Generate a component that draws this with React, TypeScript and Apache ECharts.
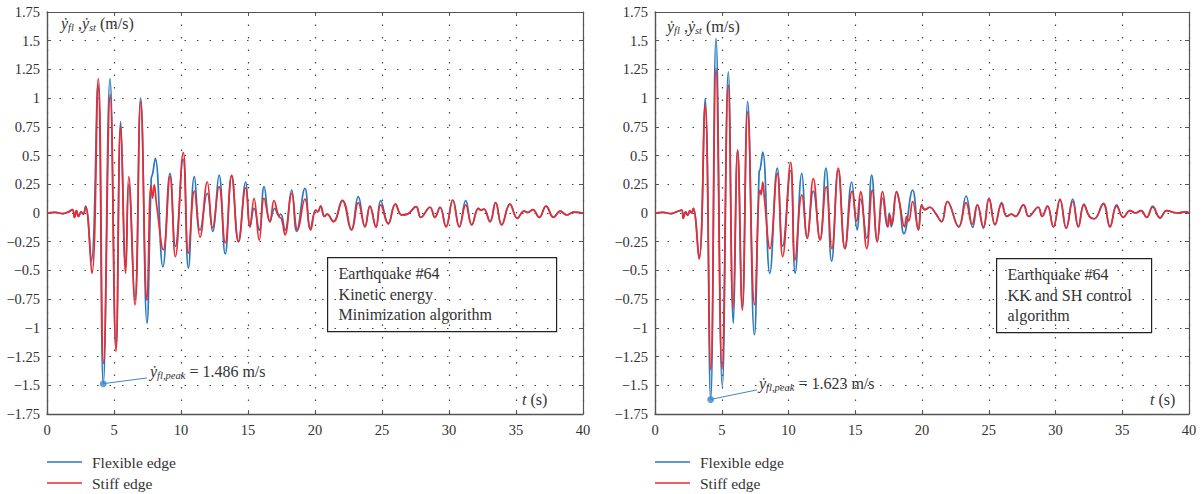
import React, { useEffect, useRef } from "react";
import * as echarts from "echarts";

// ---- data (t in s, velocity in m/s) ----
const leftFlexible: [number, number][] = [
  [0, 0], [0.6, 0.005], [1.2, -0.005], [1.6, 0.01], [1.9, 0.03], [2.05, -0.035], [2.2, 0.02], [2.35, -0.03], [2.55, 0.01], [2.7, -0.01], [2.88, 0.06],
  [3.3, -0.42], [3.8, 1.12], [4.2, -1.486], [4.7, 1.17], [5.15, -1.17], [5.5, 0.795], [5.87, -0.47], [6.1, 0.25], [6.55, -0.75], [6.99, 1.0], [7.46, -0.96],
  [7.78, 0.3], [7.88, 0.34], [8.08, 0.476], [8.65, -0.47], [9.18, 0.345], [9.58, -0.29], [10.15, 0.47], [10.55, -0.48], [11.0, 0.316], [11.42, -0.15],
  [11.96, 0.17], [12.36, -0.16], [12.84, 0.33], [13.3, -0.357], [13.78, 0.32], [14.3, -0.25], [14.83, 0.27], [15.15, -0.12], [15.45, 0.04], [15.84, -0.15],
  [16.2, 0.23], [16.64, -0.075], [17.0, 0.04], [17.3, -0.02], [17.45, -0.01], [17.76, -0.15], [18.26, 0.2], [18.63, -0.16], [19.25, 0.215], [19.65, -0.14],
  [20.05, 0.026], [20.2, 0.01], [20.42, 0.06], [20.7, -0.03], [20.9, -0.01], [21.37, -0.075], [22.03, 0.11], [22.7, -0.148], [23.23, 0.142], [23.73, -0.12],
  [24.1, 0.06], [24.55, -0.12], [24.9, 0.107], [25.47, -0.09], [26.0, 0.078], [26.47, -0.017], [26.9, -0.01], [27.54, 0.055], [27.9, -0.038], [28.58, 0.05],
  [28.95, -0.038], [29.33, 0.05], [29.78, -0.12], [30.28, 0.113], [30.77, -0.12], [31.25, 0.107], [31.7, -0.104], [32.2, 0.04], [32.4, 0.025], [32.6, 0.035],
  [33.06, -0.075], [33.48, 0.09], [33.93, -0.104], [34.55, 0.078], [35.1, -0.046], [35.6, 0.017], [35.9, 0.005], [36.25, 0.03], [36.74, -0.038], [37.24, 0.06],
  [37.8, -0.038], [38.3, 0.017], [38.78, -0.017], [39.3, 0.008], [40, 0],
];

const leftStiff: [number, number][] = [
  [0, 0], [0.6, 0.005], [1.2, -0.005], [1.6, 0.01], [1.9, 0.03], [2.05, -0.04], [2.2, 0.02], [2.35, -0.03], [2.55, 0.01], [2.7, -0.01], [2.88, 0.055],
  [3.35, -0.525], [3.83, 1.17], [4.22, -1.31], [4.72, 1.03], [5.15, -1.207], [5.5, 0.76], [5.87, -0.525], [6.1, 0.316], [6.57, -0.8], [6.99, 0.97], [7.46, -0.76],
  [7.76, 0.24], [7.88, 0.13], [8.0, 0.244], [8.18, 0.07], [8.68, -0.32], [9.18, 0.32], [9.58, -0.38], [10.17, 0.525], [10.55, -0.35], [11.0, 0.19], [11.42, -0.21],
  [11.96, 0.27], [12.36, -0.13], [12.84, 0.23], [13.3, -0.26], [13.78, 0.33], [14.28, -0.25], [14.83, 0.22], [15.15, -0.12], [15.45, 0.128], [15.84, -0.235],
  [16.2, 0.128], [16.64, -0.075], [16.94, 0.107], [17.3, -0.03], [17.5, -0.05], [17.76, -0.19], [18.26, 0.17], [18.7, -0.15], [19.25, 0.12], [19.68, -0.148],
  [20.05, 0.026], [20.2, 0.01], [20.42, 0.06], [20.7, -0.03], [20.9, -0.01], [21.37, -0.075], [22.06, 0.107], [22.74, -0.148], [23.23, 0.09], [23.73, -0.12],
  [24.1, 0.06], [24.55, -0.125], [24.9, 0.07], [25.47, -0.096], [26.0, 0.078], [26.47, -0.017], [26.9, -0.01], [27.54, 0.055], [27.9, -0.038], [28.58, 0.05],
  [28.95, -0.038], [29.33, 0.05], [29.78, -0.12], [30.28, 0.113], [30.77, -0.12], [31.25, 0.07], [31.7, -0.104], [32.2, 0.04], [32.4, 0.025], [32.6, 0.035],
  [33.06, -0.075], [33.48, 0.09], [33.93, -0.104], [34.55, 0.078], [35.1, -0.046], [35.6, 0.017], [35.9, 0.005], [36.25, 0.03], [36.74, -0.038], [37.24, 0.06],
  [37.8, -0.038], [38.3, 0.017], [38.78, -0.017], [39.3, 0.008], [40, 0],
];

const rightFlexible: [number, number][] = [
  [0, 0], [0.6, 0.005], [1.2, -0.005], [1.6, 0.01], [2.0, 0.025], [2.12, -0.046], [2.3, 0.01], [2.45, -0.02], [2.62, 0.02], [2.75, 0], [2.87, 0.04],
  [3.3, -0.395], [3.75, 0.998], [4.17, -1.623], [4.57, 1.52], [5.04, -1.51], [5.49, 1.23], [5.87, -0.96], [6.19, 0.548], [6.54, -0.82], [6.94, 0.97], [7.44, -1.06],
  [7.8, 0.36], [7.88, 0.38], [8.07, 0.53], [8.6, -0.525], [9.16, 0.39], [9.56, -0.29], [10.15, 0.37], [10.5, -0.525], [11.0, 0.345], [11.4, -0.22],
  [11.86, 0.19], [12.36, -0.235], [12.8, 0.39], [13.23, -0.42], [13.73, 0.37], [14.23, -0.31], [14.73, 0.27], [15.15, -0.148], [15.4, 0.12], [15.86, -0.22],
  [16.23, 0.33], [16.65, -0.25], [17.05, 0.13], [17.4, -0.12], [17.55, 0], [17.7, -0.12], [18.1, 0.186], [18.3, 0.1], [18.65, -0.18], [19.3, 0.2], [19.73, -0.148],
  [19.98, 0.07], [20.2, 0.03], [20.6, 0.05], [21.0, 0], [21.47, -0.075], [21.9, 0.1], [22.75, -0.12], [23.3, 0.148], [23.8, -0.125], [24.15, 0.07], [24.6, -0.133],
  [25.02, 0.128], [25.47, -0.104], [25.97, 0.09], [26.35, -0.03], [26.7, -0.01], [27.0, -0.03], [27.6, 0.07], [28.0, -0.03], [28.7, 0.05], [29.0, -0.03],
  [29.4, 0.06], [29.84, -0.12], [30.34, 0.113], [30.8, -0.133], [31.29, 0.12], [31.71, -0.12], [32.13, 0.078], [32.53, -0.026], [32.9, -0.05], [33.58, 0.084],
  [34.08, -0.12], [34.58, 0.07], [35.08, -0.038], [35.58, 0.02], [36.0, 0], [36.4, 0.02], [36.83, -0.038], [37.28, 0.06], [37.83, -0.046], [38.33, 0.02],
  [39.1, 0], [39.75, 0.01], [40, 0],
];

const rightStiff: [number, number][] = [
  [0, 0], [0.6, 0.005], [1.2, -0.005], [1.6, 0.01], [2.0, 0.025], [2.12, -0.046], [2.3, 0.01], [2.45, -0.02], [2.62, 0.02], [2.75, 0], [2.87, 0.04],
  [3.3, -0.4], [3.75, 0.94], [4.18, -1.366], [4.57, 1.26], [5.02, -1.36], [5.49, 1.114], [5.85, -0.83], [6.19, 0.55], [6.54, -0.845], [6.94, 0.88], [7.46, -0.8],
  [7.87, 0.2], [7.95, 0.16], [8.07, 0.27], [8.2, 0.12], [8.61, -0.31], [9.16, 0.345], [9.56, -0.38], [10.16, 0.44], [10.49, -0.41], [11.0, 0.157], [11.4, -0.22],
  [11.86, 0.3], [12.36, -0.235], [12.82, 0.23], [13.25, -0.31], [13.73, 0.39], [14.23, -0.31], [14.77, 0.19], [15.1, -0.07], [15.4, 0.186], [15.86, -0.31],
  [16.28, 0.2], [16.65, -0.25], [17.05, 0.186], [17.45, -0.12], [17.6, -0.02], [17.75, -0.1], [18.1, 0.186], [18.3, 0.1], [18.7, -0.12], [18.85, -0.03],
  [19.0, -0.07], [19.3, 0.1], [19.73, -0.148], [19.98, 0.07], [20.2, 0.03], [20.6, 0.05], [21.0, 0], [21.47, -0.075], [21.9, 0.1], [22.75, -0.12], [23.3, 0.09],
  [23.75, -0.1], [24.15, 0.07], [24.6, -0.12], [25.02, 0.128], [25.47, -0.1], [25.97, 0.08], [26.35, -0.03], [26.7, -0.01], [27.0, -0.03], [27.6, 0.07],
  [28.0, -0.03], [28.7, 0.05], [29.0, -0.03], [29.4, 0.06], [29.84, -0.12], [30.34, 0.12], [30.8, -0.133], [31.29, 0.1], [31.71, -0.12], [32.13, 0.07],
  [32.53, -0.03], [32.9, -0.05], [33.58, 0.08], [34.08, -0.12], [34.58, 0.06], [35.08, -0.038], [35.58, 0.02], [36.0, 0], [36.4, 0.02], [36.83, -0.038],
  [37.28, 0.05], [37.83, -0.04], [38.33, 0.02], [39.1, 0], [39.75, 0.01], [40, 0],
];

const leftPeak: [number, number] = [4.2, -1.486];
const rightPeak: [number, number] = [4.17, -1.623];
const leftPeakLabel = "1.486 m/s";
const rightPeakLabel = "1.623 m/s";
const leftBoxLines = ["Earthquake #64", "Kinetic energy", "Minimization algorithm"];
const rightBoxLines = ["Earthquake #64", "KK and SH control", "algorithm"];
const seriesNames = ["Flexible edge", "Stiff edge"];

const BLUE = "#2a78be";
const RED = "#ec2a2f";
const FONT = "'Liberation Serif', 'DejaVu Serif', serif";
const AXIS_COLOR = "#555";

export default function App() {
  const ref = useRef<HTMLDivElement>(null);
  useEffect(() => {
    document.body.style.margin = "0";
    const chart = echarts.init(ref.current!, null, { renderer: "svg" });

    const grids = [
      { left: 47, top: 12, width: 536, height: 402 },
      { left: 655, top: 12, width: 534, height: 402 },
    ];
    const splitStyle = { show: true, lineStyle: { type: [1.5, 11], color: "#444", width: 1.2 } };
    const labelStyle = { fontFamily: FONT, fontSize: 14.5, color: "#333" };

    const xAxes: any[] = [];
    const yAxes: any[] = [];
    [0, 1].forEach((g) => {
      xAxes.push({
        type: "value", gridIndex: g, min: 0, max: 40, interval: 5, position: "bottom",
        axisLine: { show: true, onZero: false, lineStyle: { color: AXIS_COLOR, width: 1.4 } },
        axisTick: { show: true, inside: true, length: 4, lineStyle: { color: AXIS_COLOR } },
        axisLabel: { ...labelStyle, margin: 8 },
        splitLine: splitStyle,
      });
      xAxes.push({
        type: "value", gridIndex: g, min: 0, max: 40, interval: 5, position: "top",
        axisLine: { show: true, onZero: false, lineStyle: { color: AXIS_COLOR, width: 1.2 } },
        axisTick: { show: true, inside: true, length: 4, lineStyle: { color: AXIS_COLOR } },
        axisLabel: { show: false }, splitLine: { show: false },
      });
      yAxes.push({
        type: "value", gridIndex: g, min: -1.75, max: 1.75, interval: 0.25, position: "left",
        axisLine: { show: true, onZero: false, lineStyle: { color: AXIS_COLOR, width: 1.4 } },
        axisTick: { show: true, inside: true, length: 4, lineStyle: { color: AXIS_COLOR } },
        axisLabel: { ...labelStyle, margin: 7, formatter: (v: number) => (v < 0 ? "\u2212" + Math.abs(v) : String(v)) },
        splitLine: splitStyle,
      });
      yAxes.push({
        type: "value", gridIndex: g, min: -1.75, max: 1.75, interval: 0.25, position: "right",
        axisLine: { show: true, onZero: false, lineStyle: { color: AXIS_COLOR, width: 1.2 } },
        axisTick: { show: true, inside: true, length: 4, lineStyle: { color: AXIS_COLOR } },
        axisLabel: { show: false }, splitLine: { show: false },
      });
    });

    const lineSeries = (name: string, data: [number, number][], color: string, g: number, z: number) => ({
      type: "line", name, data, xAxisIndex: g * 2, yAxisIndex: g * 2,
      smooth: 0.45, symbol: "none", showSymbol: false, z,
      lineStyle: { color, width: 1.7 }, itemStyle: { color },
    });
    const peakSeries = (peak: [number, number], end: [number, number], g: number) => ({
      type: "scatter", name: "peak", data: [peak], xAxisIndex: g * 2, yAxisIndex: g * 2,
      symbolSize: 7, itemStyle: { color: "#3f86c6" }, z: 6, silent: true,
      markLine: {
        silent: true, symbol: ["none", "none"], label: { show: false },
        lineStyle: { color: "#3f86c6", width: 1, type: "solid" },
        data: [[{ coord: peak }, { coord: end }]],
      },
    });

    const dotRich = {
      i: { fontFamily: FONT, fontStyle: "italic", fontSize: 16, color: "#333" },
      s: { fontFamily: FONT, fontStyle: "italic", fontSize: 10.5, padding: [9, 0, 0, 0], color: "#333" },
      n: { fontFamily: FONT, fontSize: 16, color: "#333" },
    };
    const txt = (x: number, y: number, text: string) => ({
      type: "text", left: x, top: y, z: 10,
      style: { text, fontFamily: FONT, fontSize: 16, fill: "#333", rich: dotRich },
    });
    const box = (x: number, y: number, w: number, h: number, lines: string[]) => ({
      type: "group", left: x, top: y, z: 10,
      children: [
        { type: "rect", shape: { x: 0, y: 0, width: w, height: h }, style: { fill: "#fff", stroke: "#222", lineWidth: 1.2 } },
        ...lines.map((l, i) => ({
          type: "text", x: 11, y: 8 + i * 20.5,
          style: { text: l, fontFamily: FONT, fontSize: 16, fill: "#333" },
        })),
      ],
    });
    const legendBase = {
      top: 454, orient: "vertical", padding: 0, itemWidth: 35, itemHeight: 1.6, itemGap: 5, icon: "rect",
      data: seriesNames, selectedMode: false,
      textStyle: { fontFamily: FONT, fontSize: 15.5, color: "#333", padding: [0, 0, 0, 5] },
    };

    chart.setOption({
      animation: false,
      grid: grids,
      xAxis: xAxes,
      yAxis: yAxes,
      legend: [
        { ...legendBase, left: 47 },
        { ...legendBase, left: 655 },
      ],
      series: [
        lineSeries(seriesNames[0], leftFlexible, BLUE, 0, 2),
        lineSeries(seriesNames[1], leftStiff, RED, 0, 3),
        peakSeries(leftPeak, [7.46, -1.436], 0),
        lineSeries(seriesNames[0], rightFlexible, BLUE, 1, 2),
        lineSeries(seriesNames[1], rightStiff, RED, 1, 3),
        peakSeries(rightPeak, [7.64, -1.54], 1),
      ],
      graphic: [
        txt(61, 15, "{i|\u1E8F}{s|fl} ,{i|\u1E8F}{s|st} {n|(m/s)}"),
        txt(667, 18, "{i|\u1E8F}{s|fl} ,{i|\u1E8F}{s|st} {n|(m/s)}"),
        txt(150, 363, "{i|\u1E8F}{s|fl,peak} {n|= " + leftPeakLabel + "}"),
        txt(759, 375, "{i|\u1E8F}{s|fl,peak} {n|= " + rightPeakLabel + "}"),
        txt(522, 391, "{i|t} {n|(s)}"),
        txt(1150, 391, "{i|t} {n|(s)}"),
        box(327, 257, 229, 74, leftBoxLines),
        box(996, 258, 155, 74, rightBoxLines),
      ],
    });
    return () => chart.dispose();
  }, []);
  return <div ref={ref} style={{ position: "absolute", left: 0, top: 0, width: 1202, height: 494 }} />;
}
